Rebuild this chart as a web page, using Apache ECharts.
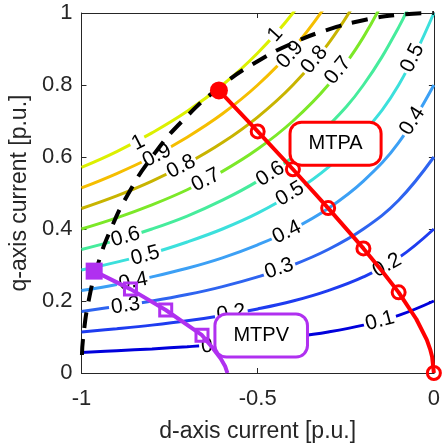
<!DOCTYPE html>
<html><head><meta charset="utf-8">
<script src="https://cdn.jsdelivr.net/npm/echarts@6/dist/echarts.min.js"></script>
<style>html,body{margin:0;padding:0;background:#fff}#c{width:443px;height:448px}</style>
</head><body><div id="c"></div>
<script>
// torque contour levels
const levelNames = ['0.1','0.2','0.3','0.4','0.5','0.6','0.7','0.8','0.9','1'];
const levelColors = ['#0000dc','#1e3cf0','#2e64f0','#3ca0f5','#3ce0dc','#46ec9c','#7ce828','#c8b400','#f5be00','#dcf000'];
// contour lines [id, iq]
const c01 = [[-1,0.057],[-0.9,0.062],[-0.8,0.067],[-0.7,0.073],[-0.6,0.080],[-0.5,0.089],[-0.4,0.100],[-0.3,0.114],[-0.2,0.133],[-0.1,0.160],[0,0.200]];
const c02 = [[-1,0.114],[-0.9,0.123],[-0.8,0.133],[-0.7,0.145],[-0.6,0.160],[-0.5,0.178],[-0.4,0.200],[-0.3,0.229],[-0.2,0.267],[-0.1,0.320],[0,0.400]];
const c03 = [[-1,0.171],[-0.9,0.185],[-0.8,0.200],[-0.7,0.218],[-0.6,0.240],[-0.5,0.267],[-0.4,0.300],[-0.3,0.343],[-0.2,0.400],[-0.1,0.480],[0,0.600]];
const c04 = [[-1,0.229],[-0.9,0.246],[-0.8,0.267],[-0.7,0.291],[-0.6,0.320],[-0.5,0.356],[-0.4,0.400],[-0.3,0.457],[-0.2,0.533],[-0.1,0.640],[0,0.800]];
const c05 = [[-1,0.286],[-0.9,0.308],[-0.8,0.333],[-0.7,0.364],[-0.6,0.400],[-0.5,0.444],[-0.4,0.500],[-0.3,0.571],[-0.2,0.667],[-0.1,0.800],[0,1.000]];
const c06 = [[-1,0.343],[-0.9,0.369],[-0.8,0.400],[-0.7,0.436],[-0.6,0.480],[-0.5,0.533],[-0.4,0.600],[-0.3,0.686],[-0.2,0.800],[-0.1,0.960],[-0.05,1.067]];
const c07 = [[-1,0.400],[-0.9,0.431],[-0.8,0.467],[-0.7,0.509],[-0.6,0.560],[-0.5,0.622],[-0.4,0.700],[-0.3,0.800],[-0.2,0.933],[-0.1,1.120]];
const c08 = [[-1,0.457],[-0.9,0.492],[-0.8,0.533],[-0.7,0.582],[-0.6,0.640],[-0.5,0.711],[-0.4,0.800],[-0.3,0.914],[-0.2,1.067]];
const c09 = [[-1,0.514],[-0.9,0.554],[-0.8,0.600],[-0.7,0.655],[-0.6,0.720],[-0.5,0.800],[-0.4,0.900],[-0.3,1.029]];
const c10 = [[-1,0.571],[-0.9,0.615],[-0.8,0.667],[-0.7,0.727],[-0.6,0.800],[-0.5,0.889],[-0.4,1.000],[-0.3,1.143]];
const contours = [c01,c02,c03,c04,c05,c06,c07,c08,c09,c10];
// contour label placements [id, iq, text, angle]
const contourLabels = [
  [-0.839,0.640,'1',27],[-0.786,0.604,'0.9',27],[-0.717,0.573,'0.8',27],[-0.647,0.536,'0.7',27],
  [-0.875,0.378,'0.6',16],[-0.819,0.326,'0.5',15],[-0.853,0.254,'0.4',11],[-0.875,0.187,'0.3',8],
  [-0.575,0.166,'0.2',9],[-0.619,0.076,'0.1',4],
  [-0.450,0.940,'1',48],[-0.408,0.884,'0.9',48],[-0.339,0.870,'0.8',50],[-0.272,0.840,'0.7',51],
  [-0.061,0.875,'0.5',64],[-0.061,0.700,'0.4',57],
  [-0.464,0.553,'0.6',33],[-0.408,0.498,'0.5',31],[-0.417,0.391,'0.4',26],[-0.439,0.290,'0.3',19],
  [-0.133,0.299,'0.2',29],[-0.153,0.145,'0.1',15]
];
// current limit circle (dashed)
const currentLimit = [[-0.9987,0.05],[-0.995,0.10],[-0.98,0.199],[-0.954,0.300],[-0.9165,0.400],[-0.866,0.500],
  [-0.8,0.600],[-0.714,0.700],[-0.6,0.800],[-0.5,0.866],[-0.4,0.9165],[-0.3,0.954],[-0.2,0.980],[-0.1,0.995],[0,1.0]];
// MTPA trajectory
const mtpaLine = [[0,0],[-0.005,0.045],[-0.01,0.064],[-0.02,0.092],[-0.05,0.150],[-0.1,0.224],[-0.15,0.287],[-0.2,0.346],
  [-0.3,0.458],[-0.4,0.566],[-0.5,0.671],[-0.61,0.785]];
const mtpaMarks = [[0,0],[-0.1,0.224],[-0.2,0.346],[-0.3,0.458],[-0.4,0.566],[-0.5,0.671]];
const mtpaEnd = [[-0.61,0.785]];
// MTPV trajectory
const mtpvLine = [[-0.964,0.283],[-0.861,0.233],[-0.761,0.175],[-0.658,0.105],[-0.63,0.072],[-0.605,0.040],[-0.592,0.018],[-0.586,0]];
const mtpvMarks = [[-0.861,0.233],[-0.761,0.175],[-0.658,0.105]];
const mtpvStart = [[-0.964,0.283]];
// annotation boxes
const annotations = [[-0.279,0.637,'MTPA','#ff0000'],[-0.490,0.104,'MTPV','#b030f0']];
const xTicks = {min:-1,max:0,interval:0.5};
const yTicks = {min:0,max:1,interval:0.2};

const FONT = '"Liberation Sans", Arial, sans-serif';
const AX = '#262626';
const PURPLE = '#b030f0';
const series = [];
contours.forEach((d,i)=>{
  series.push({type:'line',data:d,smooth:0.4,symbol:'none',z:2,silent:true,
    lineStyle:{color:levelColors[i],width:3},clip:true});
});
series.push({type:'scatter',z:3,symbolSize:0,silent:true,itemStyle:{opacity:1},
  data:contourLabels.map(l=>({value:[l[0],l[1]],name:l[2],label:{rotate:l[3]}})),
  label:{show:true,position:'inside',formatter:'{b}',fontSize:21,fontFamily:FONT,color:'#000',
    backgroundColor:'#fff',padding:[0,2],lineHeight:14}
});
series.push({type:'line',data:currentLimit,smooth:0.5,symbol:'none',z:4,silent:true,
  lineStyle:{color:'#000',width:4,type:[16,11]}});
series.push({type:'line',data:mtpaLine,symbol:'none',z:5,silent:true,lineStyle:{color:'#ff0000',width:4}});
series.push({type:'scatter',data:mtpaMarks,z:6,symbol:'circle',symbolSize:13,silent:true,
  itemStyle:{color:'rgba(0,0,0,0)',borderColor:'#ff0000',borderWidth:3,opacity:1}});
series.push({type:'scatter',data:mtpaEnd,z:6,symbol:'circle',symbolSize:18,silent:true,itemStyle:{color:'#ff0000',opacity:1}});
series.push({type:'line',data:mtpvLine,symbol:'none',z:5,silent:true,lineStyle:{color:PURPLE,width:4}});
series.push({type:'scatter',data:mtpvMarks,z:6,symbol:'rect',symbolSize:12,silent:true,
  itemStyle:{color:'rgba(0,0,0,0)',borderColor:PURPLE,borderWidth:3,opacity:1}});
series.push({type:'scatter',data:mtpvStart,z:6,symbol:'rect',symbolSize:17,silent:true,itemStyle:{color:PURPLE,opacity:1}});
series.push({type:'scatter',z:7,symbolSize:0,silent:true,itemStyle:{opacity:1},
  data:annotations.map(a=>({value:[a[0],a[1]],name:a[2],label:{borderColor:a[3]}})),
  label:{show:true,position:'inside',formatter:'{b}',fontSize:20,fontFamily:FONT,color:'#000',
    backgroundColor:'#fff',borderWidth:3,borderRadius:10,padding:[9,17],lineHeight:22}
});

const axisCommon = {
  axisLine:{show:true,onZero:false,lineStyle:{color:AX,width:1}},
  axisTick:{show:true,inside:true,length:5,lineStyle:{color:AX}},
  splitLine:{show:false}
};
const option = {
  animation:false,
  grid:{left:80,right:3,top:13,bottom:74,containLabel:false},
  xAxis:[
    Object.assign({type:'value',position:'bottom',min:xTicks.min,max:xTicks.max,interval:xTicks.interval,
      name:'d-axis current [p.u.]',nameLocation:'middle',nameGap:47,
      nameTextStyle:{fontSize:23,fontFamily:FONT,color:AX},
      axisLabel:{fontSize:22,fontFamily:FONT,color:AX,margin:15,formatter:v=>String(v)}},axisCommon),
    Object.assign({type:'value',position:'top',min:xTicks.min,max:xTicks.max,interval:xTicks.interval,
      axisLabel:{show:false}},axisCommon)
  ],
  yAxis:[
    Object.assign({type:'value',position:'left',min:yTicks.min,max:yTicks.max,interval:yTicks.interval,
      name:'q-axis current [p.u.]',nameLocation:'middle',nameGap:46,
      nameTextStyle:{fontSize:23,fontFamily:FONT,color:AX},
      axisLabel:{fontSize:22,fontFamily:FONT,color:AX,margin:9,formatter:v=>String(Math.round(v*10)/10)}},axisCommon),
    Object.assign({type:'value',position:'right',min:yTicks.min,max:yTicks.max,interval:yTicks.interval,
      axisLabel:{show:false}},axisCommon)
  ],
  series:series
};
const chart = echarts.init(document.getElementById('c'),null,{renderer:'canvas'});
chart.setOption(option);
</script></body></html>
